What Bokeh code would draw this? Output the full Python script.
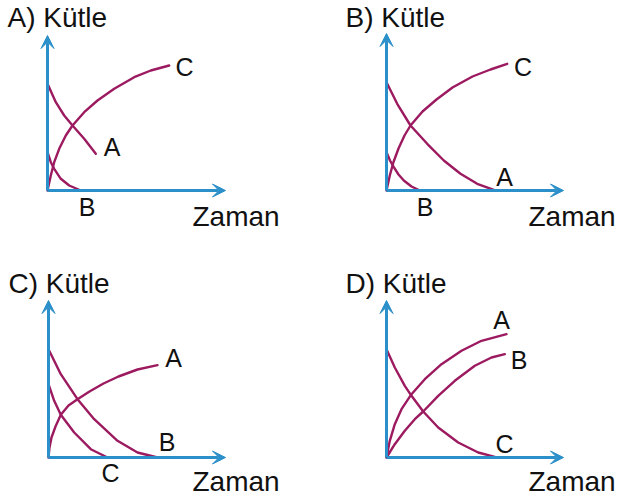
from bokeh.plotting import figure
from bokeh.layouts import column, row
from bokeh.models import Range1d, Arrow, VeeHead
from bokeh.core.properties import value
from bokeh.embed import file_html
from bokeh.resources import INLINE

# ---- data (time, mass) in arbitrary units ----
# Panel A
A_curveA_t = [0, 0.83, 1.67, 2.5, 3.67, 4.83]
A_curveA_m = [10.67, 8.83, 7.5, 6.5, 5.17, 3.67]
A_curveB_t = [0, 0.33, 0.67, 1.33, 2.17, 3.33]
A_curveB_m = [3.83, 2.83, 2.17, 1.17, 0.5, 0]
A_curveC_t = [0, 0.33, 0.67, 1.17, 1.83, 2.5, 3.67, 5.0, 6.67, 8.67, 10.33, 12.17]
A_curveC_m = [0, 1.5, 2.83, 4.17, 5.5, 6.5, 7.83, 9.0, 10.17, 11.33, 12.0, 12.5]
# Panel B
B_curveA_t = [0, 1.07, 2.4, 4.07, 5.73, 7.4, 9.07, 10.73]
B_curveA_m = [10.83, 8.67, 6.5, 4.67, 3.0, 1.67, 0.67, 0.07]
B_curveB_t = [0, 0.35, 0.73, 1.2, 1.73, 2.5, 3.33]
B_curveB_m = [3.83, 3.0, 2.33, 1.6, 1.0, 0.4, 0]
B_curveC_t = [0, 0.33, 0.7, 1.2, 1.8, 2.4, 3.6, 5.0, 6.6, 8.6, 10.4, 12.07]
B_curveC_m = [0, 1.5, 2.85, 4.2, 5.5, 6.5, 7.9, 9.1, 10.3, 11.4, 12.1, 12.67]
# Panel C
C_curveA_t = [0, 0.1, 0.3, 0.7, 1.23, 2.0, 2.9, 4.1, 5.5, 7.0, 8.9, 10.9]
C_curveA_m = [0, 1.0, 2.0, 3.1, 4.27, 5.2, 5.83, 6.6, 7.4, 8.1, 8.8, 9.23]
C_curveB_t = [0, 1.23, 2.9, 4.57, 6.9, 8.9, 10.9]
C_curveB_m = [10.83, 8.33, 5.83, 3.83, 1.67, 0.5, 0]
C_curveC_t = [0, 0.57, 1.23, 2.57, 4.23, 5.9]
C_curveC_m = [7.33, 5.67, 4.27, 2.5, 0.83, 0]
# Panel D
D_curveA_t = [0, 0.33, 0.83, 1.5, 2.5, 3.83, 5.5, 7.5, 9.5, 12.0]
D_curveA_m = [0, 1.67, 3.33, 4.83, 6.33, 7.83, 9.33, 10.67, 11.67, 12.33]
D_curveB_t = [0, 0.83, 1.83, 2.83, 3.67, 5.17, 6.83, 8.83, 10.5, 11.83]
D_curveB_m = [0, 1.33, 2.67, 3.83, 4.6, 6.17, 7.67, 9.17, 10.0, 10.33]
D_curveC_t = [0, 0.83, 1.83, 2.5, 3.67, 5.17, 7.17, 9.17, 10.83]
D_curveC_m = [10.83, 9.0, 7.17, 6.17, 4.6, 3.0, 1.5, 0.5, 0.07]

panel_names = ["A)", "B)", "C)", "D)"]
curve_labels = ["A", "B", "C"]
y_title = "Kütle"
x_title = "Zaman"

CURVE = "#9c1a5f"
AXIS = "#2b8fc9"
INK = "#111111"
FONT = value("Liberation Sans")
TEXT_DY = 0.9


def panel(name, curves, labels, W, H, ox, oy, ymax_tip, xmax_tip,
          title_pos, zaman_pos):
    s = 10.0
    p = figure(width=W, height=H, output_backend="svg", toolbar_location=None,
               x_range=Range1d(-ox / s, (W - ox) / s),
               y_range=Range1d(-(H - oy) / s, oy / s),
               min_border=0)
    p.axis.visible = False
    p.grid.visible = False
    p.outline_line_color = None
    p.background_fill_color = "white"

    for t, m in curves:
        p.line(t, m, line_color=CURVE, line_width=2.4,
               line_cap="round", line_join="round")

    for end in [(xmax_tip, 0), (0, ymax_tip)]:
        p.add_layout(Arrow(x_start=0, y_start=0, x_end=end[0], y_end=end[1],
                           line_color=AXIS, line_width=3,
                           end=VeeHead(size=13, fill_color=AXIS,
                                       line_color=AXIS, line_width=1)))

    lx = [l[1] for l in labels]
    ly = [l[2] + TEXT_DY for l in labels]
    lt = [l[0] for l in labels]
    p.text(lx, ly, text=lt, text_font=FONT, text_font_size=value("25px"),
           text_align="center", text_baseline="alphabetic", text_color=INK)

    p.text([title_pos[0]], [title_pos[1] + TEXT_DY], text=[name + " " + y_title],
           text_font=FONT, text_font_size=value("28px"),
           text_align="left", text_baseline="alphabetic", text_color=INK)
    p.text([zaman_pos[0]], [zaman_pos[1] + TEXT_DY], text=[x_title],
           text_font=FONT, text_font_size=value("28px"),
           text_align="left", text_baseline="alphabetic", text_color=INK)
    return p


pA = panel(panel_names[0],
           [(A_curveA_t, A_curveA_m), (A_curveB_t, A_curveB_m), (A_curveC_t, A_curveC_m)],
           [(curve_labels[0], 6.45, 3.49), (curve_labels[1], 3.95, -2.56), (curve_labels[2], 13.7, 11.44)],
           318, 258, 47, 190, 15.5, 17.8, (-4.0, 16.4), (14.5, -3.5))
pB = panel(panel_names[1],
           [(B_curveA_t, B_curveA_m), (B_curveB_t, B_curveB_m), (B_curveC_t, B_curveC_m)],
           [(curve_labels[0], 11.8, 0.44), (curve_labels[1], 3.85, -2.56), (curve_labels[2], 13.65, 11.44)],
           301, 258, 68, 190, 15.7, 17.7, (-4.1, 16.4), (14.2, -3.5))
pC = panel(panel_names[2],
           [(C_curveA_t, C_curveA_m), (C_curveB_t, C_curveB_m), (C_curveC_t, C_curveC_m)],
           [(curve_labels[0], 12.5, 9.04), (curve_labels[1], 11.85, 0.64), (curve_labels[2], 6.2, -2.46)],
           318, 242, 48, 199, 15.7, 17.7, (-4.0, 16.5), (14.4, -3.3))
pD = panel(panel_names[3],
           [(D_curveA_t, D_curveA_m), (D_curveB_t, D_curveB_m), (D_curveC_t, D_curveC_m)],
           [(curve_labels[0], 11.5, 12.84), (curve_labels[1], 13.25, 8.84), (curve_labels[2], 11.8, 0.44)],
           301, 242, 68, 199, 15.7, 17.7, (-4.1, 16.5), (14.2, -3.3))

layout = column(row(pA, pB, spacing=0), row(pC, pD, spacing=0), spacing=0)
open("out.html", "w").write(file_html(layout, INLINE))
